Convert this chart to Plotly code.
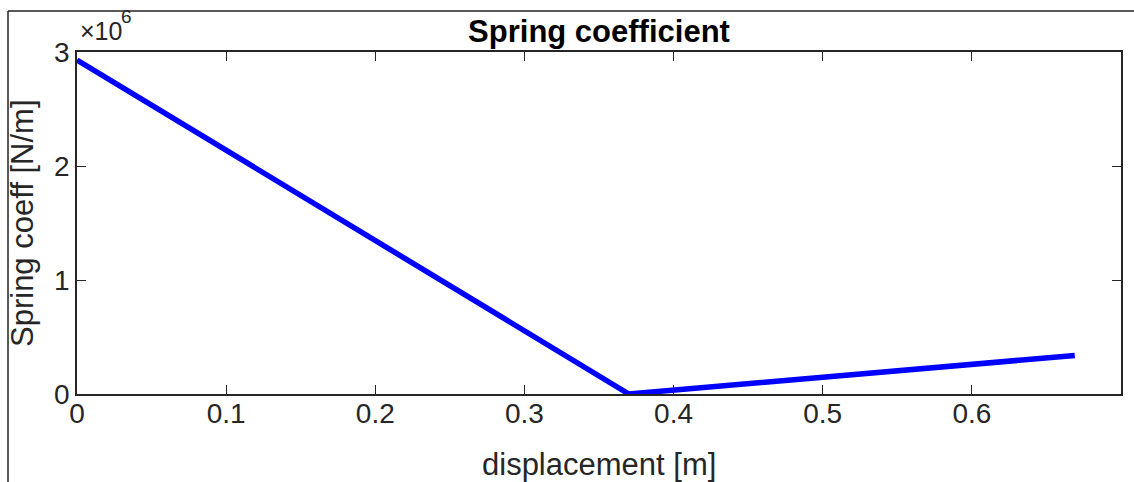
import plotly.graph_objects as go

displacement = [0.0, 0.37, 0.669]
spring_coeff = [2.93e6, 0.0, 0.338e6]

x_ticks = [0, 0.1, 0.2, 0.3, 0.4, 0.5, 0.6, 0.7]
x_tick_text = ["0", "0.1", "0.2", "0.3", "0.4", "0.5", "0.6", "0.7"]
y_ticks = [0, 1e6, 2e6, 3e6]
y_tick_text = ["0", "1", "2", "3"]

FONT = "Liberation Sans, Arial, Helvetica, sans-serif"
AX = "#262626"

fig = go.Figure()
fig.add_trace(go.Scatter(x=displacement, y=spring_coeff, mode="lines",
                         line=dict(color="#0000ff", width=5.5), showlegend=False))

L, R, T, B = 77, 13, 52, 88
W, H = 1134, 482
pw, ph = W - L - R, H - T - B

def px_x(p):
    return (p - L) / pw

def px_y(p):
    return 1 - (p - T) / ph

fig.update_layout(
    width=W, height=H,
    margin=dict(l=L, r=R, t=T, b=B),
    paper_bgcolor="white", plot_bgcolor="white",
    font=dict(family=FONT, color=AX),
    title=dict(text="<b>Spring coefficient</b>", x=(L + pw / 2) / W, xanchor="center",
               y=1 - 31 / H, yanchor="middle", font=dict(size=31, color="black", family=FONT)),
    xaxis=dict(range=[0, 0.7], tickvals=x_ticks, ticktext=x_tick_text,
               showgrid=False, zeroline=False, showline=True, linecolor=AX, linewidth=1.5,
               mirror="ticks", ticks="inside", ticklen=9, tickcolor=AX,
               ticklabelstandoff=-6,
               tickfont=dict(size=28, color=AX)),
    yaxis=dict(range=[0, 3e6], tickvals=y_ticks, ticktext=y_tick_text,
               showgrid=False, zeroline=False, showline=True, linecolor=AX, linewidth=1.5,
               mirror="ticks", ticks="inside", ticklen=9, tickcolor=AX,
               tickfont=dict(size=28, color=AX)),
    annotations=[
        dict(text="displacement [m]", xref="paper", yref="paper", x=0.5, y=px_y(465),
             xanchor="center", yanchor="middle", showarrow=False,
             font=dict(size=31, color=AX, family=FONT)),
        dict(text="Spring coeff [N/m]", xref="paper", yref="paper", x=px_x(22), y=0.5,
             xanchor="center", yanchor="middle", textangle=-90, showarrow=False,
             font=dict(size=31, color=AX, family=FONT)),
        dict(text="×10", xref="paper", yref="paper", x=px_x(78), y=px_y(31),
             xanchor="left", yanchor="middle", showarrow=False,
             font=dict(size=25, color=AX, family=FONT)),
        dict(text="6", xref="paper", yref="paper", x=px_x(119), y=px_y(17),
             xanchor="left", yanchor="middle", showarrow=False,
             font=dict(size=19, color=AX, family=FONT)),
    ],
    shapes=[
        dict(type="line", xref="paper", yref="paper",
             x0=px_x(8), x1=px_x(8), y0=px_y(11), y1=px_y(H + 5),
             line=dict(color="#222222", width=1.5)),
        dict(type="line", xref="paper", yref="paper",
             x0=px_x(8), x1=px_x(W + 5), y0=px_y(11), y1=px_y(11),
             line=dict(color="#222222", width=1.5)),
    ],
)

fig.write_html("out.html")
